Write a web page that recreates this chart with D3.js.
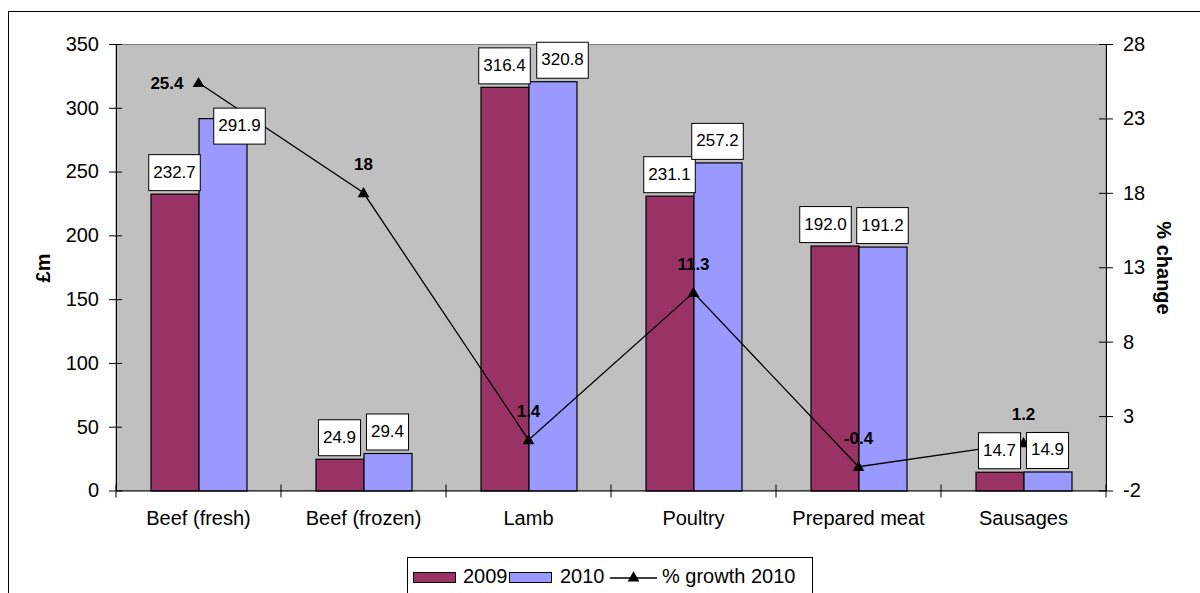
<!DOCTYPE html>
<html>
<head>
<meta charset="utf-8">
<script src="https://cdn.jsdelivr.net/npm/d3@7"></script>
<style>
  html, body { margin: 0; padding: 0; background: #fff; }
  svg { display: block; font-family: "Liberation Sans", Arial, sans-serif; }
</style>
</head>
<body>
<svg id="chart" width="1200" height="593"></svg>
<script>
// Meat sales by category, £m, with % growth in 2010
const categories = ["Beef (fresh)", "Beef (frozen)", "Lamb", "Poultry", "Prepared meat", "Sausages"];
const seriesNames = ["2009", "2010"];
const sales2009 = [232.7, 24.9, 316.4, 231.1, 192.0, 14.7];
const sales2010 = [291.9, 29.4, 320.8, 257.2, 191.2, 14.9];
const growth2010 = [25.4, 18, 1.4, 11.3, -0.4, 1.2];
const leftTicks = [0, 50, 100, 150, 200, 250, 300, 350];
const rightTicks = [-2, 3, 8, 13, 18, 23, 28];
const growthLabels = ["25.4", "18", "1.4", "11.3", "-0.4", "1.2"];

const colors = { "2009": "#993366", "2010": "#9999FF" };
const plot = { left: 116, right: 1106, top: 44, bottom: 490.5 };

// Nudges for value boxes that would otherwise collide (series|category -> [dx, dy])
const boxNudge = { "2010|0": [17, 29], "2010|2": [10, 0], "2009|4": [-9, 0] };

const svg = d3.select("#chart");

// Outer chart frame
svg.append("rect").attr("x", 8.5).attr("y", 11.5).attr("width", 1230).attr("height", 620)
  .attr("fill", "#fff").attr("stroke", "#000").attr("stroke-width", 1);

const x = d3.scaleBand().domain(categories).range([plot.left, plot.right]).paddingInner(0).paddingOuter(0);
const xs = d3.scaleBand().domain(seriesNames).range([-48, 48]);
const y = d3.scaleLinear().domain([0, 350]).range([plot.bottom, plot.top]);
const y2 = d3.scaleLinear().domain([-2, 28]).range([plot.bottom, plot.top]);

// Plot area
svg.append("rect").attr("x", plot.left).attr("y", plot.top + 0.5)
  .attr("width", plot.right - plot.left).attr("height", plot.bottom - plot.top - 0.5)
  .attr("fill", "#C0C0C0").attr("stroke", "#808080").attr("stroke-width", 1);

const rows = categories.map((c, i) => ({ cat: c, i, "2009": sales2009[i], "2010": sales2010[i], g: growth2010[i] }));

// Bars
const groups = svg.append("g").selectAll("g").data(rows).join("g")
  .attr("transform", d => `translate(${x(d.cat) + x.bandwidth() / 2},0)`);
groups.selectAll("rect").data(d => seriesNames.map(s => ({ s, v: d[s], i: d.i }))).join("rect")
  .attr("x", d => xs(d.s) + 0.5)
  .attr("y", d => y(d.v) + 0.5)
  .attr("width", xs.bandwidth())
  .attr("height", d => y(0) - y(d.v))
  .attr("fill", d => colors[d.s])
  .attr("stroke", "#000").attr("stroke-width", 1.2);

// Axes
const fs = "20px";
const plainNum = v => String(v);
const leftAxis = d3.axisLeft(y).tickValues(leftTicks).tickFormat(plainNum)
  .tickSizeInner(7).tickSizeOuter(0).tickPadding(10);
const gl = svg.append("g").attr("transform", `translate(${plot.left},0)`).call(leftAxis);
gl.selectAll("text").style("font-size", fs).attr("fill", "#000");
gl.selectAll(".tick line").attr("x2", -7).attr("x1", 6).attr("stroke", "#000");
gl.select(".domain").attr("stroke", "#000");

const rightAxis = d3.axisRight(y2).tickValues(rightTicks).tickFormat(plainNum)
  .tickSizeInner(7).tickSizeOuter(0).tickPadding(10);
const gr = svg.append("g").attr("transform", `translate(${plot.right},0)`).call(rightAxis);
gr.selectAll("text").style("font-size", fs).attr("fill", "#000");
gr.selectAll(".tick line").attr("x1", -7).attr("x2", 7).attr("stroke", "#000");
gr.select(".domain").attr("stroke", "#000");

const gb = svg.append("g").attr("transform", `translate(0,${plot.bottom})`)
  .call(d3.axisBottom(x).tickSize(0).tickPadding(20));
gb.select(".domain").attr("stroke", "#000");
gb.selectAll("text").style("font-size", fs).attr("fill", "#000");
// Category divider ticks
const bounds = categories.map(c => x(c)).concat([plot.right]);
svg.append("g").selectAll("line").data(bounds).join("line")
  .attr("x1", d => d).attr("x2", d => d)
  .attr("y1", plot.bottom - 6).attr("y2", plot.bottom + 7)
  .attr("stroke", "#000");

// Axis titles
svg.append("text").attr("transform", `translate(50,268) rotate(-90)`)
  .attr("text-anchor", "middle").style("font-size", "20px").style("font-weight", "bold").text("£m");
svg.append("text").attr("transform", `translate(1157,268) rotate(90)`)
  .attr("text-anchor", "middle").style("font-size", "20px").style("font-weight", "bold").text("% change");

// Growth line
const cx = d => x(d.cat) + x.bandwidth() / 2;
const line = d3.line().x(cx).y(d => y2(d.g));
svg.append("path").datum(rows).attr("d", line).attr("fill", "none").attr("stroke", "#000").attr("stroke-width", 1.3);
const tri = d3.symbol().type(d3.symbolTriangle).size(60);
svg.append("g").selectAll("path").data(rows).join("path")
  .attr("transform", d => `translate(${cx(d)},${y2(d.g) + 1})`)
  .attr("d", tri).attr("fill", "#000");

// Growth labels
svg.append("g").selectAll("text").data(rows).join("text")
  .attr("x", d => d.i === 0 ? cx(d) - 15 : cx(d))
  .attr("y", d => d.i === 0 ? y2(d.g) + 6 : y2(d.g) - 23)
  .attr("text-anchor", d => d.i === 0 ? "end" : "middle")
  .style("font-size", "17px").style("font-weight", "bold")
  .text(d => growthLabels[d.i]);

// Value boxes
const valueData = [];
rows.forEach(r => seriesNames.forEach(s => valueData.push({ s, i: r.i, cat: r.cat, v: r[s] })));
const fmt = d3.format(".1f");
const vb = svg.append("g").selectAll("g").data(valueData).join("g")
  .attr("transform", d => {
    const n = boxNudge[d.s + "|" + d.i] || [0, 0];
    const bx = x(d.cat) + x.bandwidth() / 2 + xs(d.s) + xs.bandwidth() / 2 + n[0];
    const by = y(d.v) - 3 + n[1];
    return `translate(${bx},${by})`;
  });
vb.each(function(d) {
  const g = d3.select(this);
  const t = g.append("text").attr("x", 0).attr("y", -13).attr("text-anchor", "middle")
    .style("font-size", "17px").text(fmt(d.v));
  const w = t.node().getComputedTextLength() + 9;
  g.insert("rect", "text").attr("x", -w / 2).attr("y", -36).attr("width", w).attr("height", 36)
    .attr("fill", "#fff").attr("stroke", "#000").attr("stroke-width", 1);
});

// Legend
const lg = svg.append("g");
lg.append("rect").attr("x", 407.5).attr("y", 557.5).attr("width", 405).attr("height", 60)
  .attr("fill", "#fff").attr("stroke", "#000");
const legendItems = [
  { s: "2009", sx: 413, tx: 463 },
  { s: "2010", sx: 509, tx: 560 }
];
legendItems.forEach(it => {
  lg.append("rect").attr("x", it.sx + 0.5).attr("y", 572.5).attr("width", 42).attr("height", 10)
    .attr("fill", colors[it.s]).attr("stroke", "#000");
  lg.append("text").attr("x", it.tx).attr("y", 583).style("font-size", fs).text(it.s);
});
lg.append("line").attr("x1", 610).attr("x2", 657).attr("y1", 578).attr("y2", 578).attr("stroke", "#000").attr("stroke-width", 1.3);
lg.append("path").attr("transform", "translate(633.5,578)").attr("d", tri).attr("fill", "#000");
lg.append("text").attr("x", 662).attr("y", 583).style("font-size", fs).text("% growth 2010");
</script>
</body>
</html>
